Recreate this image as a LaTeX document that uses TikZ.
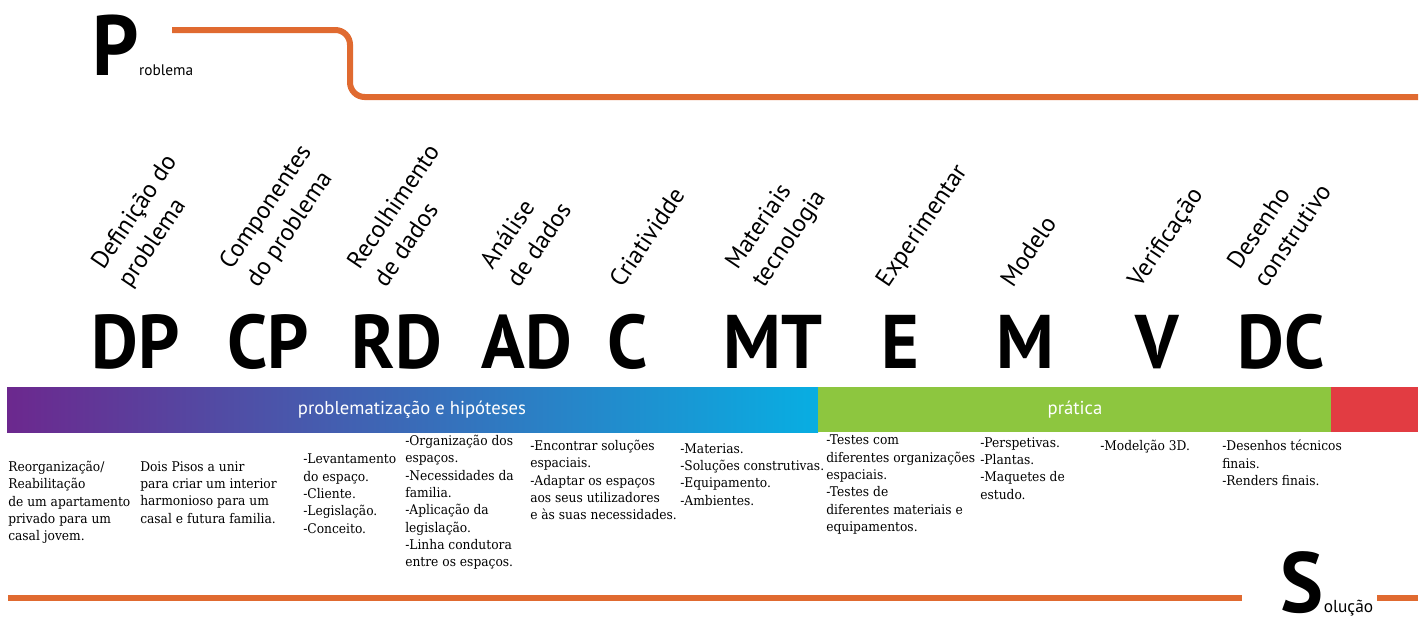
\documentclass[tikz,border=0pt]{standalone}
\usepackage{fontspec}
\setmainfont{PT Sans}
\newfontfamily\bigf[FakeStretch=0.95]{PT Sans}
\newfontfamily\bodyf[FakeStretch=0.92]{DejaVu Serif}
\definecolor{orng}{RGB}{224,106,48}
\definecolor{purp}{RGB}{108,40,142}
\definecolor{blu}{RGB}{62,100,182}
\definecolor{cyn}{RGB}{8,174,226}
\definecolor{grn}{RGB}{141,198,63}
\definecolor{rd}{RGB}{226,60,66}
\begin{document}
\begin{tikzpicture}[x=0.75pt,y=-0.75pt,
  oline/.style={draw=orng, line width=4.5pt},
  lab/.style={rotate=56, anchor=base west, align=left, inner sep=0, font=\fontsize{18.5}{24}\selectfont},
  abbr/.style={anchor=base, inner sep=0, font=\bigf\bfseries\fontsize{57}{57}\selectfont},
  col/.style={anchor=north west, align=left, inner sep=0, font=\bodyf\fontsize{10}{13}\selectfont},
  bartxt/.style={text=white, font=\fontsize{14}{14}\selectfont, inner sep=0},
  initial/.style={anchor=base west, inner sep=0, font=\bigf\bfseries\fontsize{64}{64}\selectfont},
  small/.style={anchor=base west, inner sep=0, font=\fontsize{11.5}{11.5}\selectfont}]
\useasboundingbox[fill=white] (0,0) rectangle (1426,622);

% Problema
\node[initial] (P) at (92,75) {P};
\node[small] (roblema) at (P.base east) {roblema};
\coordinate (t0) at (172,30);
\coordinate (t1) at (350,30);
\coordinate (t2) at (350,97);
\coordinate (t3) at (1418,97);
\draw[oline, rounded corners=11pt] (t0) -- (t1) -- (t2) -- (t3);

% rotated labels
\node[lab] (lDP) at (130,289) {Definição do\\problema};
\node[lab] (lCP) at (258,289) {Componentes\\do problema};
\node[lab] (lRD) at (386,289) {Recolhimento\\de dados};
\node[lab] (lAD) at (519,289) {Análise\\de dados};
\node[lab] (lC)  at (622,289) {Criatividde};
\node[lab] (lMT) at (764,289) {Materiais\\tecnologia};
\node[lab] (lE)  at (888,289) {Experimentar};
\node[lab] (lM)  at (1013,289) {Modelo};
\node[lab] (lV)  at (1140,289) {Verificação};
\node[lab] (lDC) at (1266,289) {Desenho\\construtivo};

% abbreviations
\node[abbr] (DP) at (136,368) {DP};
\node[abbr] (CP) at (268,368) {CP};
\node[abbr] (RD) at (397,368) {RD};
\node[abbr] (AD) at (527,368) {AD};
\node[abbr] (C)  at (628,368) {C};
\node[abbr] (MT) at (773,368) {MT};
\node[abbr] (E)  at (900,368) {E};
\node[abbr] (M)  at (1025,368) {M};
\node[abbr] (V)  at (1157,368) {V};
\node[abbr] (DC) at (1281,368) {DC};

% bar
\shade[left color=purp, middle color=blu, right color=cyn] (7,387) rectangle (818,432);
\fill[grn] (818,387) rectangle (1331,432);
\fill[rd] (1331,387) rectangle (1418,432);
\node[bartxt] (b1) at (412,410) {problematização e hipóteses};
\node[bartxt] (b2) at (1075,410) {prática};

% columns
\node[col] (c1) at (8,461) {Reorganização/\\Reabilitação\\de um apartamento\\privado para um\\casal jovem.};
\node[col] (c2) at (140,461) {Dois Pisos a unir\\para criar um interior\\harmonioso para um\\casal e futura familia.};
\node[col] (c3) at (303,454) {-Levantamento\\do espaço.\\-Cliente.\\-Legislação.\\-Conceito.};
\node[col] (c4) at (405,435) {-Organização dos\\espaços.\\-Necessidades da\\familia.\\-Aplicação da\\legislação.\\-Linha condutora\\entre os espaços.};
\node[col] (c5) at (530,440) {-Encontrar soluções\\espaciais.\\-Adaptar os espaços\\aos seus utilizadores\\e às suas necessidades.};
\node[col] (c6) at (680,443) {-Materias.\\-Soluções construtivas.\\-Equipamento.\\-Ambientes.};
\node[col] (c7) at (826,435) {-Testes com\\diferentes organizações\\espaciais.\\-Testes de\\diferentes materiais e\\equipamentos.};
\node[col] (c8) at (980,437) {-Perspetivas.\\-Plantas.\\-Maquetes de\\estudo.};
\node[col] (c9) at (1100,440) {-Modelção 3D.};
\node[col] (c10) at (1222,440) {-Desenhos técnicos\\finais.\\-Renders finais.};

% Solucao
\coordinate (s0) at (8,598);
\coordinate (s1) at (1242,598);
\coordinate (s2) at (1377,598);
\coordinate (s3) at (1418,598);
\draw[oline] (s0) -- (s1);
\draw[oline] (s2) -- (s3);
\node[initial] (S) at (1280,612) {S};
\node[small, font=\fontsize{13}{13}\selectfont] (olucao) at (S.base east) {olução};
\end{tikzpicture}
\end{document}
